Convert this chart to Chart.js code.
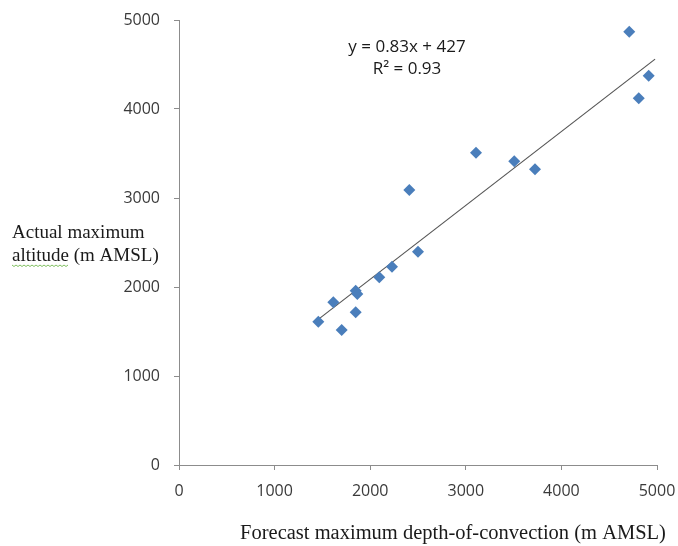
<!DOCTYPE html>
<html>
<head>
<meta charset="utf-8">
<script src="https://cdn.jsdelivr.net/npm/chart.js@4.4.0/dist/chart.umd.min.js"></script>
<style>
  html, body { margin: 0; padding: 0; background: #fff; }
  #wrap { width: 678px; height: 546px; }
</style>
</head>
<body>
<div id="wrap"><canvas id="chartScatter"></canvas></div>
<script>
// datos (m AMSL)
const forecastDepth = [1457, 1614, 1702, 1848, 1865, 1848, 2095, 2228, 2500, 2409, 3107, 3507, 3724, 4710, 4809, 4913];
const actualAltitude = [1610, 1828, 1517, 1958, 1921, 1716, 2109, 2228, 2397, 3090, 3509, 3412, 3322, 4869, 4120, 4374];
const axisTicks = [0, 1000, 2000, 3000, 4000, 5000];

// linea de tendencia (ecuacion del grafico)
const trendSlope = 0.83;
const trendIntercept = 427;
const trendRange = [1457, 4980];
const trendLabel = 'y = 0.83x + 427';
const r2Label = 'R\u00B2 = 0.93';

const xTitle = 'Forecast maximum depth-of-convection (m AMSL)';
const yTitleLines = ['Actual maximum', 'altitude (m AMSL)'];

const points = forecastDepth.map((x, i) => ({ x: x, y: actualAltitude[i] }));
const trendPoints = trendRange.map(x => ({ x: x, y: trendSlope * x + trendIntercept }));

// textos adicionales (titulos y ecuacion)
const textPlugin = {
    id: 'textos',
    afterDraw(chart) {
        const ctx = chart.ctx;
        ctx.save();
        ctx.fillStyle = '#1a1a1a';
        ctx.textBaseline = 'alphabetic';

        // ecuacion
        ctx.font = '17px "Open Sans"';
        ctx.textAlign = 'center';
        ctx.fillText(trendLabel, 407, 52);
        ctx.fillText(r2Label, 407, 74);

        // titulo eje y (horizontal)
        ctx.font = '19px "Liberation Serif"';
        ctx.textAlign = 'left';
        ctx.fillText(yTitleLines[0], 12, 238);
        ctx.fillText(yTitleLines[1], 12, 261);

        // subrayado ondulado bajo "altitude"
        const wW = ctx.measureText('altitude').width;
        ctx.strokeStyle = '#7fbf5f';
        ctx.lineWidth = 1;
        ctx.beginPath();
        for (let px = 12, k = 0; px <= 12 + wW; px += 2, k++) {
            const py = 265 + (k % 2 ? 1.5 : 0);
            if (k === 0) ctx.moveTo(px, py); else ctx.lineTo(px, py);
        }
        ctx.stroke();

        // titulo eje x
        ctx.font = '20.5px "Liberation Serif"';
        ctx.textAlign = 'center';
        ctx.fillText(xTitle, 453, 539);
        ctx.restore();
    }
};

const tickFont = { family: 'Open Sans', size: 16 };

const ctx1 = document.getElementById('chartScatter').getContext('2d');
const chartScatter = new Chart(ctx1, {
    type: 'scatter',
    data: {
        datasets: [
            {
                label: 'Actual',
                data: points,
                pointStyle: 'rectRot',
                pointRadius: 6,
                backgroundColor: '#4a7ebb',
                borderColor: '#4a7ebb',
                borderWidth: 0
            },
            {
                type: 'line',
                label: 'Trend',
                data: trendPoints,
                borderColor: '#555555',
                borderWidth: 1.2,
                pointRadius: 0,
                fill: false
            }
        ]
    },
    options: {
        responsive: true,
        maintainAspectRatio: false,
        animation: false,
        layout: { padding: { left: 0, right: 21, top: 20, bottom: 0 } },
        plugins: {
            legend: { display: false },
            tooltip: { enabled: false }
        },
        scales: {
            x: {
                type: 'linear',
                min: 0,
                max: 5000,
                afterBuildTicks: s => { s.ticks = axisTicks.map(v => ({ value: v })); },
                afterFit: s => { s.height = 81; s.paddingLeft = 0; s.paddingRight = 0; },
                border: { color: '#8c8c8c', width: 1 },
                grid: { drawOnChartArea: false, tickLength: 5, color: '#8c8c8c' },
                ticks: { color: '#3a3a3a', font: tickFont, padding: 12, maxRotation: 0, callback: v => String(v) }
            },
            y: {
                type: 'linear',
                min: 0,
                max: 5000,
                afterBuildTicks: s => { s.ticks = axisTicks.map(v => ({ value: v })); },
                afterFit: s => { s.width = 179; s.paddingTop = 0; s.paddingBottom = 0; },
                border: { color: '#8c8c8c', width: 1 },
                grid: { drawOnChartArea: false, tickLength: 5, color: '#8c8c8c' },
                ticks: { color: '#3a3a3a', font: tickFont, padding: 14, callback: v => String(v) }
            }
        }
    },
    plugins: [textPlugin]
});
</script>
</body>
</html>
